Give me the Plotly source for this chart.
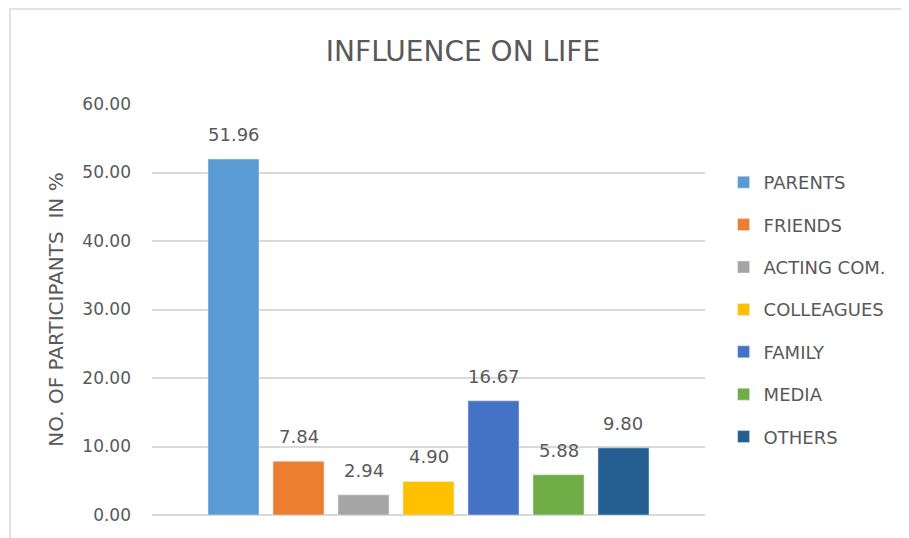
import plotly.graph_objects as go

categories = ["PARENTS", "FRIENDS", "ACTING COM.", "COLLEAGUES", "FAMILY", "MEDIA", "OTHERS"]
values = [51.96, 7.84, 2.94, 4.90, 16.67, 5.88, 9.80]
colors = ["#5B9BD5", "#ED7D31", "#A5A5A5", "#FFC000", "#4472C4", "#70AD47", "#255E91"]
y_ticks = [0, 10, 20, 30, 40, 50, 60]
y_tick_labels = ["0.00", "10.00", "20.00", "30.00", "40.00", "50.00", "60.00"]

FONT = "DejaVu Sans"
GRAY = "#595959"

# page offset of the plot div (body margin)
OFF = 8
L, T, PW, PH = 152, 104, 553, 411  # target plot area in screen px


def px(sx):
    return (sx - L) / PW


def py(sy):
    return 1 - (sy - T) / PH


fig = go.Figure()
for cat, val, col in zip(categories, values, colors):
    fig.add_trace(go.Bar(
        x=[cat], y=[val], name=cat, marker_color=col, width=0.785,
        legendgroup=cat, hoverinfo="y",
    ))
    fig.add_annotation(
        x=cat, y=val, xref="x", yref="y", text=f"{val:.2f}",
        showarrow=False, yanchor="bottom", yshift=12,
        font=dict(family=FONT, size=18, color=GRAY),
    )

fig.update_layout(
    width=909, height=538,
    margin=dict(l=L - OFF, r=909 - (L + PW) + OFF, t=T - OFF, b=538 - (T + PH) + OFF),
    paper_bgcolor="white", plot_bgcolor="white",
    barmode="overlay",
    title=dict(text="INFLUENCE ON LIFE", x=(463 - OFF) / 909, xanchor="center",
               y=1 - (51 - OFF) / 538, yanchor="middle",
               font=dict(family=FONT, size=28, color=GRAY)),
    showlegend=True,
    legend=dict(x=px(723.6), xanchor="left", y=py(164), yanchor="top",
                font=dict(family=FONT, size=18, color=GRAY),
                tracegroupgap=16, itemclick=False, bgcolor="rgba(0,0,0,0)"),
    xaxis=dict(range=[-1.254, 7.254], showticklabels=False, showgrid=False,
               zeroline=False, showline=False, ticks=""),
    yaxis=dict(range=[0, 60], tickvals=y_ticks, ticktext=y_tick_labels,
               showgrid=True, gridcolor="#D9D9D9", gridwidth=1.5,
               zeroline=True, zerolinecolor="#D9D9D9", zerolinewidth=1.5,
               showline=False, ticks="", ticklabelstandoff=20,
               tickfont=dict(family=FONT, size=17, color=GRAY),
               title=dict(text="NO. OF PARTICIPANTS\u00a0\u00a0IN %", standoff=13,
                          font=dict(family=FONT, size=20, color=GRAY))),
)

fig.add_shape(type="rect", xref="paper", yref="paper",
              x0=px(10), x1=px(960), y0=py(600), y1=py(9),
              line=dict(color="#D9D9D9", width=1.5), fillcolor="rgba(0,0,0,0)", layer="below")

fig.write_html("out.html")
